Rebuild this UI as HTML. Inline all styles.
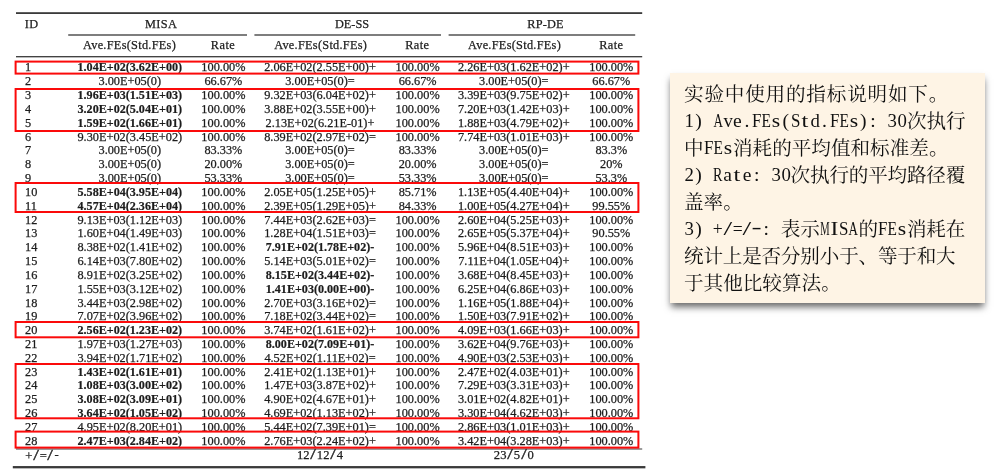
<!DOCTYPE html>
<html lang="zh-CN">
<head>
<meta charset="utf-8">
<title>MISA results table</title>
<style>
html,body{margin:0;padding:0;background:#fff;}
body{width:1004px;height:471px;position:relative;overflow:hidden;font-family:"Liberation Serif","Noto Serif CJK SC",serif;color:#1c1c1c;}
.tbl{position:absolute;left:0;top:0;width:660px;height:471px;font-size:12.3px;line-height:14px;}
.ov{position:absolute;left:0;top:0;}
.r{position:absolute;left:0;width:660px;height:14px;white-space:nowrap;}
.r span{position:absolute;top:0;width:140px;text-align:center;}
.r span{-webkit-text-stroke:0.25px #1c1c1c;}
.r b{-webkit-text-stroke:0.2px #1c1c1c;}
.f{font-size:12.6px;}
.f i{font-style:normal;display:inline-block;}
.f .sl{width:6.2px;margin:0 0.6px;text-align:center;transform:scaleX(1.6) scaleY(1.08);}
.f .hy{position:relative;top:-2.4px;margin-left:0.3px;}
.r .id{left:25px;width:auto;text-align:left;}
.r b{font-weight:bold;font-size:12.1px;}

.r .c1{left:59.8px;}
.r .c2{left:153.4px;}
.r .c3{left:250.0px;}
.r .c4{left:347.6px;}
.r .c5{left:443.8px;}
.r .c6{left:541.3px;}
.h{position:absolute;white-space:nowrap;text-align:center;width:140px;height:14px;letter-spacing:0.45px;-webkit-text-stroke:0.25px #1c1c1c;}
.box{position:absolute;border:1.6px solid #f20d0d;box-sizing:border-box;}
.note{position:absolute;left:670px;top:73px;width:315px;height:230px;background:#fef4e5;box-shadow:0 5px 7px -1px rgba(0,0,0,.6);}
.note div{position:absolute;left:14px;white-space:nowrap;font-size:19.6px;line-height:27px;height:27px;color:#111;font-family:"Liberation Serif","Noto Serif CJK SC",serif;}
.note i{font-style:normal;display:inline-block;position:relative;top:-1px;width:9.8px;text-align:center;letter-spacing:0;white-space:pre;}
.note .n97 i{width:9.7px;}
</style>
</head>
<body>
<div class="tbl">

<div class="h" style="left:-38.4px;top:17.30px;">ID</div>
<div class="h" style="left:91.2px;top:17.30px;">MISA</div>
<div class="h" style="left:282.0px;top:17.30px;letter-spacing:0">DE-SS</div>
<div class="h" style="left:475.5px;top:17.30px;letter-spacing:0.2px">RP-DE</div>
<div class="h" style="left:59.5px;top:38.30px;letter-spacing:0.28px">Ave.FEs(Std.FEs)</div>
<div class="h" style="left:153.0px;top:38.30px;">Rate</div>
<div class="h" style="left:250.7px;top:38.30px;letter-spacing:0.28px">Ave.FEs(Std.FEs)</div>
<div class="h" style="left:347.3px;top:38.30px;">Rate</div>
<div class="h" style="left:444.5px;top:38.30px;letter-spacing:0.28px">Ave.FEs(Std.FEs)</div>
<div class="h" style="left:541.3px;top:38.30px;">Rate</div>
<div class="r" style="top:60.40px"><span class="id">1</span><span class="c1"><b>1.04E+02(3.62E+00)</b></span><span class="c2">100.00%</span><span class="c3">2.06E+02(2.55E+00)+</span><span class="c4">100.00%</span><span class="c5">2.26E+03(1.62E+02)+</span><span class="c6">100.00%</span></div>
<div class="r" style="top:74.23px"><span class="id">2</span><span class="c1">3.00E+05(0)</span><span class="c2">66.67%</span><span class="c3">3.00E+05(0)=</span><span class="c4">66.67%</span><span class="c5">3.00E+05(0)=</span><span class="c6">66.67%</span></div>
<div class="r" style="top:88.06px"><span class="id">3</span><span class="c1"><b>1.96E+03(1.51E+03)</b></span><span class="c2">100.00%</span><span class="c3">9.32E+03(6.04E+02)+</span><span class="c4">100.00%</span><span class="c5">3.39E+03(9.75E+02)+</span><span class="c6">100.00%</span></div>
<div class="r" style="top:101.89px"><span class="id">4</span><span class="c1"><b>3.20E+02(5.04E+01)</b></span><span class="c2">100.00%</span><span class="c3">3.88E+02(3.55E+00)+</span><span class="c4">100.00%</span><span class="c5">7.20E+03(1.42E+03)+</span><span class="c6">100.00%</span></div>
<div class="r" style="top:115.72px"><span class="id">5</span><span class="c1"><b>1.59E+02(1.66E+01)</b></span><span class="c2">100.00%</span><span class="c3">2.13E+02(6.21E-01)+</span><span class="c4">100.00%</span><span class="c5">1.88E+03(4.79E+02)+</span><span class="c6">100.00%</span></div>
<div class="r" style="top:129.55px"><span class="id">6</span><span class="c1">9.30E+02(3.45E+02)</span><span class="c2">100.00%</span><span class="c3">8.39E+02(2.97E+02)=</span><span class="c4">100.00%</span><span class="c5">7.74E+03(1.01E+03)+</span><span class="c6">100.00%</span></div>
<div class="r" style="top:143.38px"><span class="id">7</span><span class="c1">3.00E+05(0)</span><span class="c2">83.33%</span><span class="c3">3.00E+05(0)=</span><span class="c4">83.33%</span><span class="c5">3.00E+05(0)=</span><span class="c6">83.3%</span></div>
<div class="r" style="top:157.21px"><span class="id">8</span><span class="c1">3.00E+05(0)</span><span class="c2">20.00%</span><span class="c3">3.00E+05(0)=</span><span class="c4">20.00%</span><span class="c5">3.00E+05(0)=</span><span class="c6">20%</span></div>
<div class="r" style="top:171.04px"><span class="id">9</span><span class="c1">3.00E+05(0)</span><span class="c2">53.33%</span><span class="c3">3.00E+05(0)=</span><span class="c4">53.33%</span><span class="c5">3.00E+05(0)=</span><span class="c6">53.3%</span></div>
<div class="r" style="top:184.87px"><span class="id">10</span><span class="c1"><b>5.58E+04(3.95E+04)</b></span><span class="c2">100.00%</span><span class="c3">2.05E+05(1.25E+05)+</span><span class="c4">85.71%</span><span class="c5">1.13E+05(4.40E+04)+</span><span class="c6">100.00%</span></div>
<div class="r" style="top:198.70px"><span class="id">11</span><span class="c1"><b>4.57E+04(2.36E+04)</b></span><span class="c2">100.00%</span><span class="c3">2.39E+05(1.29E+05)+</span><span class="c4">84.33%</span><span class="c5">1.00E+05(4.27E+04)+</span><span class="c6">99.55%</span></div>
<div class="r" style="top:212.53px"><span class="id">12</span><span class="c1">9.13E+03(1.12E+03)</span><span class="c2">100.00%</span><span class="c3">7.44E+03(2.62E+03)=</span><span class="c4">100.00%</span><span class="c5">2.60E+04(5.25E+03)+</span><span class="c6">100.00%</span></div>
<div class="r" style="top:226.36px"><span class="id">13</span><span class="c1">1.60E+04(1.49E+03)</span><span class="c2">100.00%</span><span class="c3">1.28E+04(1.51E+03)=</span><span class="c4">100.00%</span><span class="c5">2.65E+05(5.37E+04)+</span><span class="c6">90.55%</span></div>
<div class="r" style="top:240.19px"><span class="id">14</span><span class="c1">8.38E+02(1.41E+02)</span><span class="c2">100.00%</span><span class="c3"><b>7.91E+02(1.78E+02)-</b></span><span class="c4">100.00%</span><span class="c5">5.96E+04(8.51E+03)+</span><span class="c6">100.00%</span></div>
<div class="r" style="top:254.02px"><span class="id">15</span><span class="c1">6.14E+03(7.80E+02)</span><span class="c2">100.00%</span><span class="c3">5.14E+03(5.01E+02)=</span><span class="c4">100.00%</span><span class="c5">7.11E+04(1.05E+04)+</span><span class="c6">100.00%</span></div>
<div class="r" style="top:267.85px"><span class="id">16</span><span class="c1">8.91E+02(3.25E+02)</span><span class="c2">100.00%</span><span class="c3"><b>8.15E+02(3.44E+02)-</b></span><span class="c4">100.00%</span><span class="c5">3.68E+04(8.45E+03)+</span><span class="c6">100.00%</span></div>
<div class="r" style="top:281.68px"><span class="id">17</span><span class="c1">1.55E+03(3.12E+02)</span><span class="c2">100.00%</span><span class="c3"><b>1.41E+03(0.00E+00)-</b></span><span class="c4">100.00%</span><span class="c5">6.25E+04(6.86E+03)+</span><span class="c6">100.00%</span></div>
<div class="r" style="top:295.51px"><span class="id">18</span><span class="c1">3.44E+03(2.98E+02)</span><span class="c2">100.00%</span><span class="c3">2.70E+03(3.16E+02)=</span><span class="c4">100.00%</span><span class="c5">1.16E+05(1.88E+04)+</span><span class="c6">100.00%</span></div>
<div class="r" style="top:309.34px"><span class="id">19</span><span class="c1">7.07E+02(3.96E+02)</span><span class="c2">100.00%</span><span class="c3">7.18E+02(3.44E+02)=</span><span class="c4">100.00%</span><span class="c5">1.50E+03(7.91E+02)+</span><span class="c6">100.00%</span></div>
<div class="r" style="top:323.17px"><span class="id">20</span><span class="c1"><b>2.56E+02(1.23E+02)</b></span><span class="c2">100.00%</span><span class="c3">3.74E+02(1.61E+02)+</span><span class="c4">100.00%</span><span class="c5">4.09E+03(1.66E+03)+</span><span class="c6">100.00%</span></div>
<div class="r" style="top:337.00px"><span class="id">21</span><span class="c1">1.97E+03(1.27E+03)</span><span class="c2">100.00%</span><span class="c3"><b>8.00E+02(7.09E+01)-</b></span><span class="c4">100.00%</span><span class="c5">3.62E+04(9.76E+03)+</span><span class="c6">100.00%</span></div>
<div class="r" style="top:350.83px"><span class="id">22</span><span class="c1">3.94E+02(1.71E+02)</span><span class="c2">100.00%</span><span class="c3">4.52E+02(1.11E+02)=</span><span class="c4">100.00%</span><span class="c5">4.90E+03(2.53E+03)+</span><span class="c6">100.00%</span></div>
<div class="r" style="top:364.66px"><span class="id">23</span><span class="c1"><b>1.43E+02(1.61E+01)</b></span><span class="c2">100.00%</span><span class="c3">2.41E+02(1.13E+01)+</span><span class="c4">100.00%</span><span class="c5">2.47E+02(4.03E+01)+</span><span class="c6">100.00%</span></div>
<div class="r" style="top:378.49px"><span class="id">24</span><span class="c1"><b>1.08E+03(3.00E+02)</b></span><span class="c2">100.00%</span><span class="c3">1.47E+03(3.87E+02)+</span><span class="c4">100.00%</span><span class="c5">7.29E+03(3.31E+03)+</span><span class="c6">100.00%</span></div>
<div class="r" style="top:392.32px"><span class="id">25</span><span class="c1"><b>3.08E+02(3.09E+01)</b></span><span class="c2">100.00%</span><span class="c3">4.90E+02(4.67E+01)+</span><span class="c4">100.00%</span><span class="c5">3.01E+02(4.82E+01)+</span><span class="c6">100.00%</span></div>
<div class="r" style="top:406.15px"><span class="id">26</span><span class="c1"><b>3.64E+02(1.05E+02)</b></span><span class="c2">100.00%</span><span class="c3">4.69E+02(1.13E+02)+</span><span class="c4">100.00%</span><span class="c5">3.30E+04(4.62E+03)+</span><span class="c6">100.00%</span></div>
<div class="r" style="top:419.98px"><span class="id">27</span><span class="c1">4.95E+02(8.20E+01)</span><span class="c2">100.00%</span><span class="c3">5.44E+02(7.39E+01)=</span><span class="c4">100.00%</span><span class="c5">2.86E+03(1.01E+03)+</span><span class="c6">100.00%</span></div>
<div class="r" style="top:433.81px"><span class="id">28</span><span class="c1"><b>2.47E+03(2.84E+02)</b></span><span class="c2">100.00%</span><span class="c3">2.76E+03(2.24E+02)+</span><span class="c4">100.00%</span><span class="c5">3.42E+04(3.28E+03)+</span><span class="c6">100.00%</span></div>
<div class="r f" style="top:448.40px"><span class="id" style="left:25.3px;top:0.8px">+<i class="sl">/</i>=<i class="sl">/</i><i class="hy">-</i></span><span class="c3">12<i class="sl">/</i>12<i class="sl">/</i>4</span><span class="c5">23<i class="sl">/</i>5<i class="sl">/</i>0</span></div>
<svg class="ov" width="660" height="471" viewBox="0 0 660 471"><rect x="16.0" y="12.20" width="626.2" height="1.80" fill="#3a3a3a"/><rect x="68.2" y="34.35" width="178.8" height="1.30" fill="#3a3a3a"/><rect x="254.4" y="34.35" width="186.6" height="1.30" fill="#3a3a3a"/><rect x="448.6" y="34.35" width="186.6" height="1.30" fill="#3a3a3a"/><rect x="16.0" y="56.05" width="626.2" height="1.30" fill="#3a3a3a"/><rect x="16.0" y="448.50" width="626.2" height="1.00" fill="#3a3a3a"/><rect x="12.8" y="466.05" width="632.6" height="2.30" fill="#3a3a3a"/><rect x="15.60" y="61.60" width="622.80" height="12.00" fill="none" stroke="#fb0a0a" stroke-width="2.00"/><rect x="15.60" y="89.00" width="622.80" height="42.00" fill="none" stroke="#fb0a0a" stroke-width="2.00"/><rect x="15.60" y="183.00" width="622.80" height="29.00" fill="none" stroke="#fb0a0a" stroke-width="2.00"/><rect x="15.60" y="322.00" width="622.80" height="15.30" fill="none" stroke="#fb0a0a" stroke-width="2.00"/><rect x="15.60" y="364.00" width="622.80" height="54.30" fill="none" stroke="#fb0a0a" stroke-width="2.00"/><rect x="15.60" y="431.60" width="622.80" height="16.00" fill="none" stroke="#fb0a0a" stroke-width="2.00"/></svg>
</div>
<div class="note">
<div style="top:8.40px;letter-spacing:0.80px;">实验中使用的指标说明如下。</div>
<div class="n97" style="top:35.40px;"><i style="width:10.20px;margin:0 -0.25px;transform:scaleX(0.959);">1</i><i>)</i><i> </i><i style="width:14.55px;margin:0 -2.43px;transform:scaleX(0.664);">A</i><i style="width:10.20px;margin:0 -0.25px;transform:scaleX(0.959);">v</i><i>e</i><i>.</i><i style="width:11.30px;margin:0 -0.80px;transform:scaleX(0.863);">F</i><i style="width:12.38px;margin:0 -1.34px;transform:scaleX(0.785);">E</i><i style="width:8.02px;margin:0 0.84px;transform:scaleX(1.100);">s</i><i>(</i><i style="width:11.30px;margin:0 -0.80px;transform:scaleX(0.863);">S</i><i style="width:5.85px;margin:0 1.93px;transform:scaleX(1.250);">t</i><i style="width:10.20px;margin:0 -0.25px;transform:scaleX(0.959);">d</i><i>.</i><i style="width:11.30px;margin:0 -0.80px;transform:scaleX(0.863);">F</i><i style="width:12.38px;margin:0 -1.34px;transform:scaleX(0.785);">E</i><i style="width:8.02px;margin:0 0.84px;transform:scaleX(1.100);">s</i><i>)</i><i>:</i><i> </i><i style="width:10.20px;margin:0 -0.25px;transform:scaleX(0.959);">3</i><i style="width:10.20px;margin:0 -0.25px;transform:scaleX(0.959);">0</i>次执行</div>
<div style="top:62.40px;">中<i style="width:11.30px;margin:0 -0.75px;transform:scaleX(0.863);">F</i><i style="width:12.38px;margin:0 -1.29px;transform:scaleX(0.785);">E</i><i style="width:8.02px;margin:0 0.89px;transform:scaleX(1.100);">s</i>消耗的平均值和标准差。</div>
<div class="n97" style="top:89.40px;letter-spacing:-0.20px;"><i style="width:10.20px;margin:0 -0.25px;transform:scaleX(0.959);">2</i><i>)</i><i> </i><i style="width:13.47px;margin:0 -1.89px;transform:scaleX(0.719);">R</i><i>a</i><i style="width:5.85px;margin:0 1.93px;transform:scaleX(1.250);">t</i><i>e</i><i>:</i><i> </i><i style="width:10.20px;margin:0 -0.25px;transform:scaleX(0.959);">3</i><i style="width:10.20px;margin:0 -0.25px;transform:scaleX(0.959);">0</i>次执行的平均路径覆</div>
<div style="top:116.40px;">盖率。</div>
<div class="n97" style="top:143.40px;letter-spacing:-0.20px;"><i style="width:10.20px;margin:0 -0.25px;transform:scaleX(0.959);">3</i><i>)</i><i> </i><i style="width:11.45px;margin:0 -0.88px;transform:scaleX(0.900);">+</i><i style="width:5.85px;margin:0 1.93px;transform:scaleX(1.600);">/</i><i style="width:11.45px;margin:0 -0.88px;transform:scaleX(0.900);">=</i><i style="width:5.85px;margin:0 1.93px;transform:scaleX(1.600);">/</i><i style="width:6.93px;margin:0 1.39px;transform:scaleX(1.550);top:-3.6px;">-</i><i>:</i><i> </i>表示<i style="width:17.82px;margin:0 -4.06px;transform:scaleX(0.539);">M</i><i style="width:6.93px;margin:0 1.39px;transform:scaleX(1.200);">I</i><i style="width:11.30px;margin:0 -0.80px;transform:scaleX(0.863);">S</i><i style="width:14.55px;margin:0 -2.43px;transform:scaleX(0.664);">A</i>的<i style="width:11.30px;margin:0 -0.80px;transform:scaleX(0.863);">F</i><i style="width:12.38px;margin:0 -1.34px;transform:scaleX(0.785);">E</i><i style="width:8.02px;margin:0 0.84px;transform:scaleX(1.100);">s</i>消耗在</div>
<div style="top:170.40px;letter-spacing:-0.20px;">统计上是否分别小于、等于和大</div>
<div style="top:197.40px;">于其他比较算法。</div>
</div>
</body>
</html>
